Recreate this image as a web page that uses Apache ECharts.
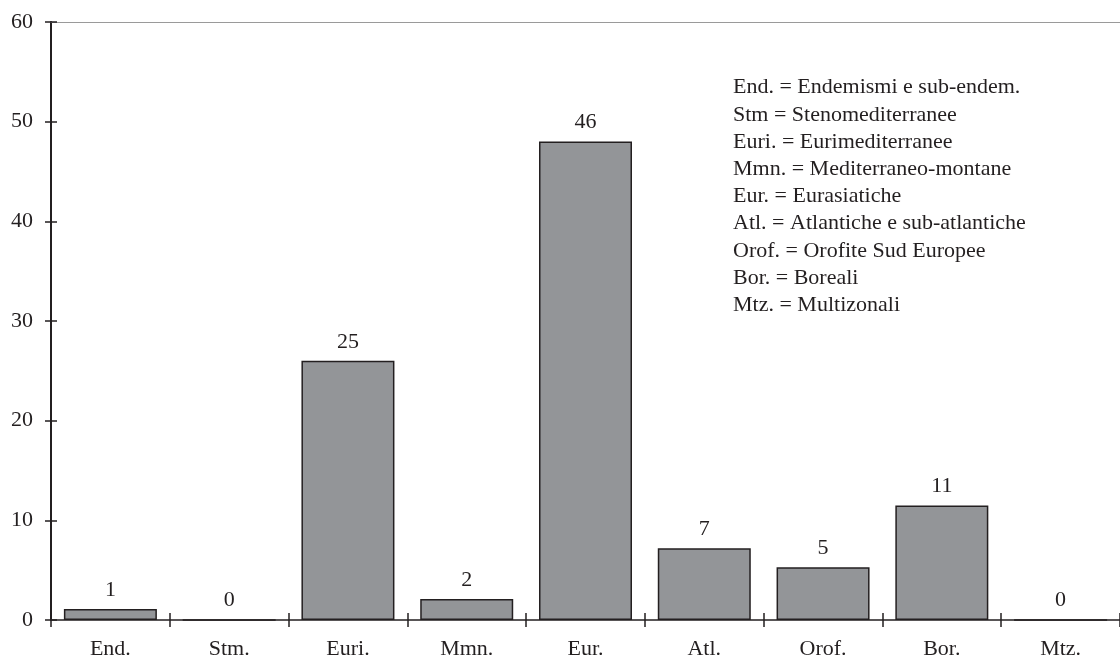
<!DOCTYPE html>
<html>
<head>
<meta charset="utf-8">
<script src="https://cdn.jsdelivr.net/npm/echarts@6/dist/echarts.min.js"></script>
<style>
html,body{margin:0;padding:0;background:#fff;}
#chart{width:1120px;height:663px;}
</style>
</head>
<body>
<div id="chart"></div>
<script>
const categories = ['End.', 'Stm.', 'Euri.', 'Mmn.', 'Eur.', 'Atl.', 'Orof.', 'Bor.', 'Mtz.'];
const barHeights = [1.1, 0, 26, 2.1, 48, 7.2, 5.3, 11.5, 0];
const barLabels = ['1', '0', '25', '2', '46', '7', '5', '11', '0'];
const yTicks = [0, 10, 20, 30, 40, 50, 60];
const legendLines = [
  'End. = Endemismi e sub-endem.',
  'Stm = Stenomediterranee',
  'Euri. = Eurimediterranee',
  'Mmn. = Mediterraneo-montane',
  'Eur. = Eurasiatiche',
  'Atl. = Atlantiche e sub-atlantiche',
  'Orof. = Orofite Sud Europee',
  'Bor. = Boreali',
  'Mtz. = Multizonali'
];

const FONT = '"Liberation Serif", "DejaVu Serif", serif';
const TXT = '#231f20';
const FS = 22;

const chart = echarts.init(document.getElementById('chart'), null, {renderer: 'canvas'});
chart.setOption({
  backgroundColor: '#fff',
  animation: false,
  textStyle: {fontFamily: FONT, color: TXT},
  title: {
    text: legendLines.join('\n'),
    left: 733,
    top: 74,
    padding: 0,
    textStyle: {fontFamily: FONT, fontSize: FS, fontWeight: 'normal', color: TXT, lineHeight: 27.2}
  },
  grid: {left: 51, right: -12, top: 22, bottom: 43, containLabel: false},
  xAxis: [
    {
      type: 'category',
      data: categories,
      position: 'bottom',
      axisLine: {lineStyle: {color: TXT, width: 1.5}},
      axisTick: {show: true, length: 7, inside: false, lineStyle: {color: TXT, width: 1.5}},
      axisLabel: {fontFamily: FONT, fontSize: FS, color: TXT, margin: 18},
      splitLine: {show: false}
    },
    {
      type: 'category',
      data: categories,
      position: 'bottom',
      axisLine: {show: false},
      axisTick: {show: true, length: 7, inside: true, lineStyle: {color: TXT, width: 1.5}},
      axisLabel: {show: false},
      splitLine: {show: false}
    },
    {
      type: 'category',
      data: categories,
      position: 'top',
      axisLine: {lineStyle: {color: '#9a9a9a', width: 1.2}},
      axisTick: {show: false},
      axisLabel: {show: false},
      splitLine: {show: false}
    }
  ],
  yAxis: [
    {
      type: 'value',
      min: yTicks[0],
      max: yTicks[yTicks.length - 1],
      interval: 10,
      position: 'left',
      axisLine: {show: true, lineStyle: {color: TXT, width: 2}},
      axisTick: {show: true, length: 6, inside: false, lineStyle: {color: TXT, width: 1.5}},
      axisLabel: {fontFamily: FONT, fontSize: FS, color: TXT, margin: 18},
      splitLine: {show: false}
    },
    {
      type: 'value',
      min: yTicks[0],
      max: yTicks[yTicks.length - 1],
      interval: 10,
      position: 'left',
      axisLine: {show: false},
      axisTick: {show: true, length: 6, inside: true, lineStyle: {color: TXT, width: 1.5}},
      axisLabel: {show: false},
      splitLine: {show: false}
    }
  ],
  series: [{
    type: 'bar',
    xAxisIndex: 0,
    yAxisIndex: 0,
    data: barHeights,
    barWidth: 93,
    itemStyle: {color: '#939598', borderColor: TXT, borderWidth: 1.5},
    label: {
      show: true,
      position: 'top',
      distance: 8,
      fontFamily: FONT,
      fontSize: FS,
      color: TXT,
      formatter: p => barLabels[p.dataIndex]
    }
  }]
});
</script>
</body>
</html>
